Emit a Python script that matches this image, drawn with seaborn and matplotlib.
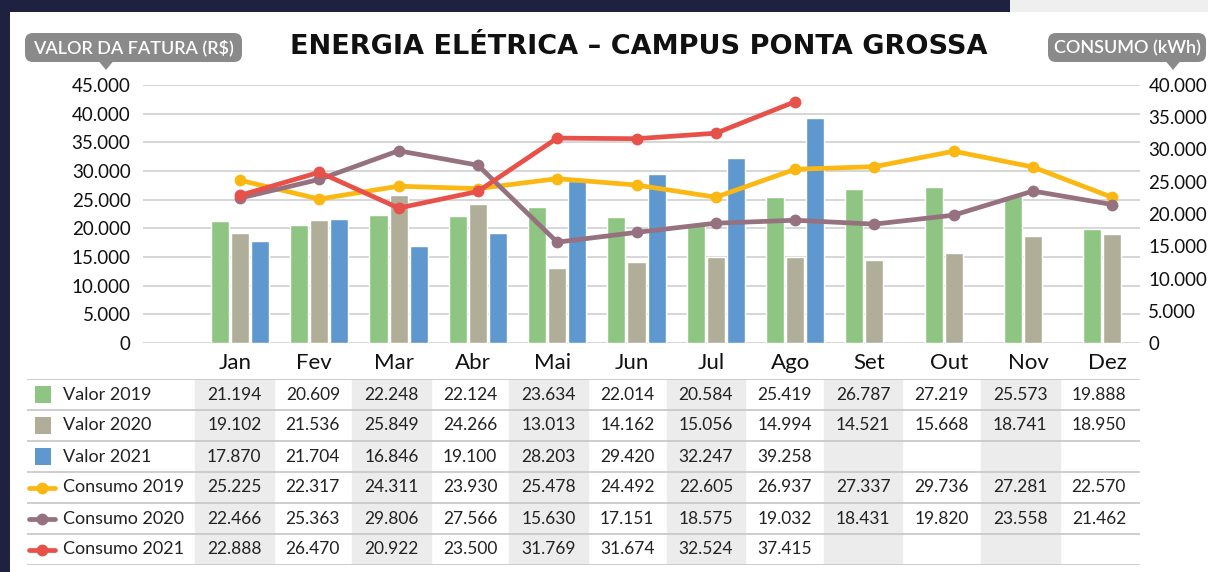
import matplotlib.pyplot as plt
import matplotlib.patches as mpatches
import matplotlib.transforms as mtransforms
from matplotlib.lines import Line2D
from matplotlib.ticker import FuncFormatter
import numpy as np
import pandas as pd
import seaborn as sns

MONTHS = ["Jan", "Fev", "Mar", "Abr", "Mai", "Jun", "Jul", "Ago", "Set", "Out", "Nov", "Dez"]
valor_2019 = [21194, 20609, 22248, 22124, 23634, 22014, 20584, 25419, 26787, 27219, 25573, 19888]
valor_2020 = [19102, 21536, 25849, 24266, 13013, 14162, 15056, 14994, 14521, 15668, 18741, 18950]
valor_2021 = [17870, 21704, 16846, 19100, 28203, 29420, 32247, 39258, None, None, None, None]
consumo_2019 = [25225, 22317, 24311, 23930, 25478, 24492, 22605, 26937, 27337, 29736, 27281, 22570]
consumo_2020 = [22466, 25363, 29806, 27566, 15630, 17151, 18575, 19032, 18431, 19820, 23558, 21462]
consumo_2021 = [22888, 26470, 20922, 23500, 31769, 31674, 32524, 37415, None, None, None, None]

BAR_LABELS = ["Valor 2019", "Valor 2020", "Valor 2021"]
LINE_LABELS = ["Consumo 2019", "Consumo 2020", "Consumo 2021"]
BAR_COLORS = ["#8ec582", "#b0ad99", "#5f97cf"]
LINE_COLORS = ["#fbb812", "#96717f", "#e8514a"]

NAVY = "#1e2140"
BADGE = "#8a8a8a"
FONT = ["Lato", "DejaVu Sans"]

W, H = 1208, 572
COL_W = 78.6      # largura de uma coluna da tabela em px
FIRST_COL = 195   # borda esquerda da coluna Jan da tabela em px
CHART_X0 = 240    # centro do grupo Jan no grafico em px
CHART_STEP = 79.3  # distancia entre grupos no grafico em px


def rect(x0, y0, x1, y1):
    return [x0 / W, 1 - y1 / H, (x1 - x0) / W, (y1 - y0) / H]


def fmt_br(v):
    return f"{int(v):,}".replace(",", ".")


def badge(ov, text, x0, y0, x1, y1, tip_x):
    box = mpatches.FancyBboxPatch((x0, y0), x1 - x0, y1 - y0,
                                  boxstyle="round,pad=0,rounding_size=8",
                                  facecolor=BADGE, edgecolor="none")
    ov.add_patch(box)
    ov.add_patch(mpatches.Polygon([(tip_x - 7, y1 - 0.5), (tip_x + 7, y1 - 0.5), (tip_x, y1 + 8)],
                                  closed=True, facecolor=BADGE, edgecolor="none"))
    ov.text((x0 + x1) / 2, (y0 + y1) / 2 + 0.5, text, ha="center", va="center",
            color="white", fontsize=13, fontweight="semibold")


def main() -> None:
    sns.set_theme(style="white")
    plt.rcParams["font.family"] = FONT

    fig = plt.figure(figsize=(W / 100, H / 100), dpi=100, facecolor=NAVY)

    # painel branco e faixa cinza do canto
    fig.patches.append(mpatches.Rectangle((10 / W, 0), 1, 1 - 12 / H, transform=fig.transFigure,
                                          facecolor="white", edgecolor="none", zorder=-10))
    fig.patches.append(mpatches.Rectangle((1010 / W, 1 - 12 / H), 1, 12 / H, transform=fig.transFigure,
                                          facecolor="#efefef", edgecolor="none", zorder=-10))

    # grafico principal
    ax_x0, ax_x1 = 143, 1140
    ax = fig.add_axes(rect(ax_x0, 85, ax_x1, 343))
    ax.set_facecolor("none")

    bars = pd.DataFrame({
        "mes": MONTHS * 3,
        "serie": [lab for lab in BAR_LABELS for _ in MONTHS],
        "valor": valor_2019 + valor_2020 + valor_2021,
    })
    sns.barplot(data=bars, x="mes", y="valor", hue="serie", palette=BAR_COLORS,
                width=0.76, gap=0.1, ax=ax, legend=False, saturation=1, zorder=3)

    x_left = -(CHART_X0 - ax_x0) / CHART_STEP
    x_right = x_left + (ax_x1 - ax_x0) / CHART_STEP
    ax.set_xlim(x_left, x_right)
    ax.set_ylim(0, 45000)
    ax.set_yticks(np.arange(0, 45001, 5000))
    ax.yaxis.set_major_formatter(FuncFormatter(lambda v, p: fmt_br(v)))
    ax.grid(axis="y", color="#d0d0d0", linewidth=1.2, zorder=0)
    ax.set_axisbelow(True)
    ax.set_xlabel("")
    ax.set_ylabel("")
    ax.tick_params(axis="y", length=0, pad=9, labelsize=13.5, labelcolor="#111111")
    ax.tick_params(axis="x", length=0, pad=7, labelsize=16, labelcolor="#111111")
    shift = mtransforms.ScaledTranslation(-5 / 100, 0, fig.dpi_scale_trans)
    for lab in ax.get_xticklabels():
        lab.set_transform(lab.get_transform() + shift)
    for s in ax.spines.values():
        s.set_visible(False)

    ax2 = ax.twinx()
    pos = np.arange(len(MONTHS))
    for vals, col in zip([consumo_2019, consumo_2020, consumo_2021], LINE_COLORS):
        y = np.array([np.nan if v is None else v for v in vals], dtype=float)
        sns.lineplot(x=pos, y=y, color=col, linewidth=3.4, marker="o", markersize=8.5,
                     markeredgewidth=0, ax=ax2, legend=False)
    ax2.set_ylim(0, 40000)
    ax2.set_yticks(np.arange(0, 40001, 5000))
    ax2.yaxis.set_major_formatter(FuncFormatter(lambda v, p: fmt_br(v)))
    ax2.tick_params(axis="y", length=0, pad=6, labelsize=13.5, labelcolor="#111111")
    ax2.set_ylabel("")
    ax2.grid(False)
    for s in ax2.spines.values():
        s.set_visible(False)
    ax.set_xlim(x_left, x_right)

    # camada em pixels para titulo e etiquetas
    ov = fig.add_axes([0, 0, 1, 1])
    ov.set_xlim(0, W)
    ov.set_ylim(H, 0)
    ov.axis("off")
    ov.patch.set_alpha(0)
    ov.text(639, 47, "ENERGIA ELÉTRICA – CAMPUS PONTA GROSSA", ha="center",
            va="center", fontsize=19.5, fontweight="bold", color="#111111",
            family=["DejaVu Sans"])
    badge(ov, "VALOR DA FATURA (R$)", 25, 33, 242, 62, 106)
    badge(ov, "CONSUMO (kWh)", 1048, 33, 1206, 62, 1173)

    # tabela
    tb_x0, tb_x1 = 27, 1140
    tab = fig.add_axes(rect(tb_x0, 379, tb_x1, 565))
    tab.set_facecolor("none")
    t_left = -0.5 - (FIRST_COL - tb_x0) / COL_W
    t_right = t_left + (tb_x1 - tb_x0) / COL_W
    tab.set_xlim(t_left, t_right)
    tab.set_ylim(6, 0)
    tab.axis("off")

    for i in range(0, len(MONTHS), 2):
        tab.axvspan(i - 0.5, i + 0.5, color="#ececec", zorder=0)
    for r in range(7):
        tab.plot([t_left, t_right], [r, r], color="#c6c6c6", linewidth=1.2, zorder=1,
                 solid_capstyle="butt")

    def px(p):
        return t_left + (p - tb_x0) / COL_W

    rows = [valor_2019, valor_2020, valor_2021, consumo_2019, consumo_2020, consumo_2021]
    labels = BAR_LABELS + LINE_LABELS
    for r, (vals, lab) in enumerate(zip(rows, labels)):
        yc = r + 0.5
        if r < 3:
            tab.add_patch(mpatches.Rectangle((px(35), yc - 0.27), 16 / COL_W, 0.54,
                                             facecolor=BAR_COLORS[r], edgecolor="none", zorder=2))
        else:
            tab.add_line(Line2D([px(29), px(55)], [yc, yc], color=LINE_COLORS[r - 3], linewidth=3.4,
                                zorder=2))
            tab.plot([px(42)], [yc], marker="o", color=LINE_COLORS[r - 3], markersize=8.5,
                     markeredgewidth=0, zorder=3)
        tab.text(px(63), yc, lab, ha="left", va="center", fontsize=13, color="#222222")
        for i, v in enumerate(vals):
            if v is None:
                continue
            tab.text(i, yc, fmt_br(v), ha="center", va="center", fontsize=12.5, color="#222222")

    fig.savefig("out.png", dpi=100, facecolor=NAVY)
    plt.close(fig)


if __name__ == "__main__":
    main()
